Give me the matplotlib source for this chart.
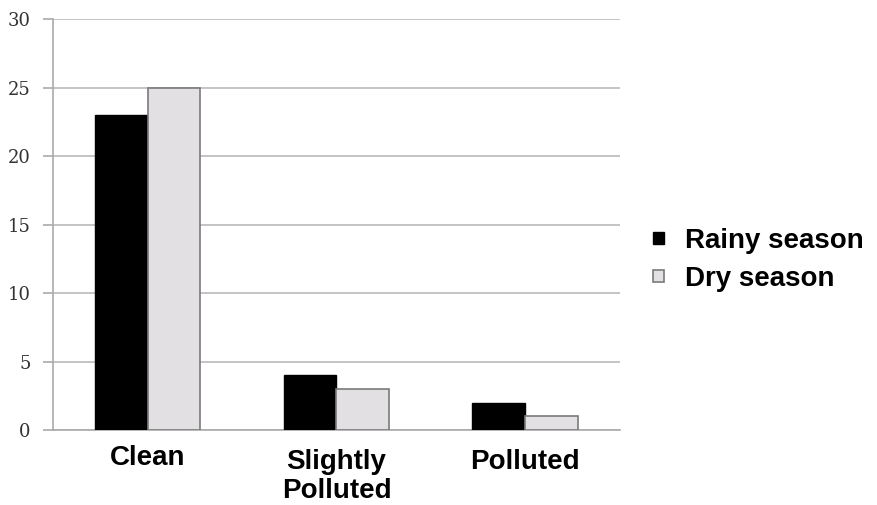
import matplotlib
matplotlib.use('Agg')
import matplotlib.pyplot as plt
import numpy as np

categories = ['Clean', 'Slightly\nPolluted', 'Polluted']
rainy = [23, 4, 2]
dry = [25, 3, 1]
yticks = [0, 5, 10, 15, 20, 25, 30]

fig = plt.figure(figsize=(8.78, 5.05), dpi=100)
ax = fig.add_axes([0.0604, 0.1485, 0.6456, 0.8135])

x = np.arange(len(categories))
w = 0.28
ax.bar(x - w/2, rainy, w, color='black', edgecolor='black', linewidth=1, label='Rainy season', zorder=3)
ax.bar(x + w/2, dry, w, color='#e3e0e3', edgecolor='#7a7a7a', linewidth=1.2, label='Dry season', zorder=3)

ax.set_xlim(-0.5, 2.5)
ax.set_ylim(0, 30)
ax.set_yticks(yticks)
ax.set_yticklabels([str(v) for v in yticks], family='DejaVu Serif', fontsize=13, color='#333333')
ax.yaxis.grid(True, color='#c4c4c4', linewidth=1.4, zorder=0)
ax.set_axisbelow(True)

ax.set_xticks(x)
ax.set_xticklabels(categories, family='Liberation Sans', fontsize=20, fontweight='bold', linespacing=1.15)
ax.tick_params(axis='x', length=0, pad=14)
ax.tick_params(axis='y', length=7, color='#aaaaaa', width=1.2, pad=9)
# "Clean" sits a little higher than the others in the reference
ax.get_xticklabels()[0].set_y(0.01)

for s in ['top', 'right']:
    ax.spines[s].set_visible(False)
ax.spines['left'].set_color('#aaaaaa')
ax.spines['left'].set_linewidth(1.2)
ax.spines['bottom'].set_color('#aaaaaa')
ax.spines['bottom'].set_linewidth(1.2)

leg = fig.legend(loc='center left', bbox_to_anchor=(0.715, 0.485), frameon=False,
                 prop={'family': 'Liberation Sans', 'weight': 'bold', 'size': 20},
                 handlelength=0.4, handleheight=0.3, handletextpad=0.75, labelspacing=0.45)

fig.savefig('out.png', dpi=100)
